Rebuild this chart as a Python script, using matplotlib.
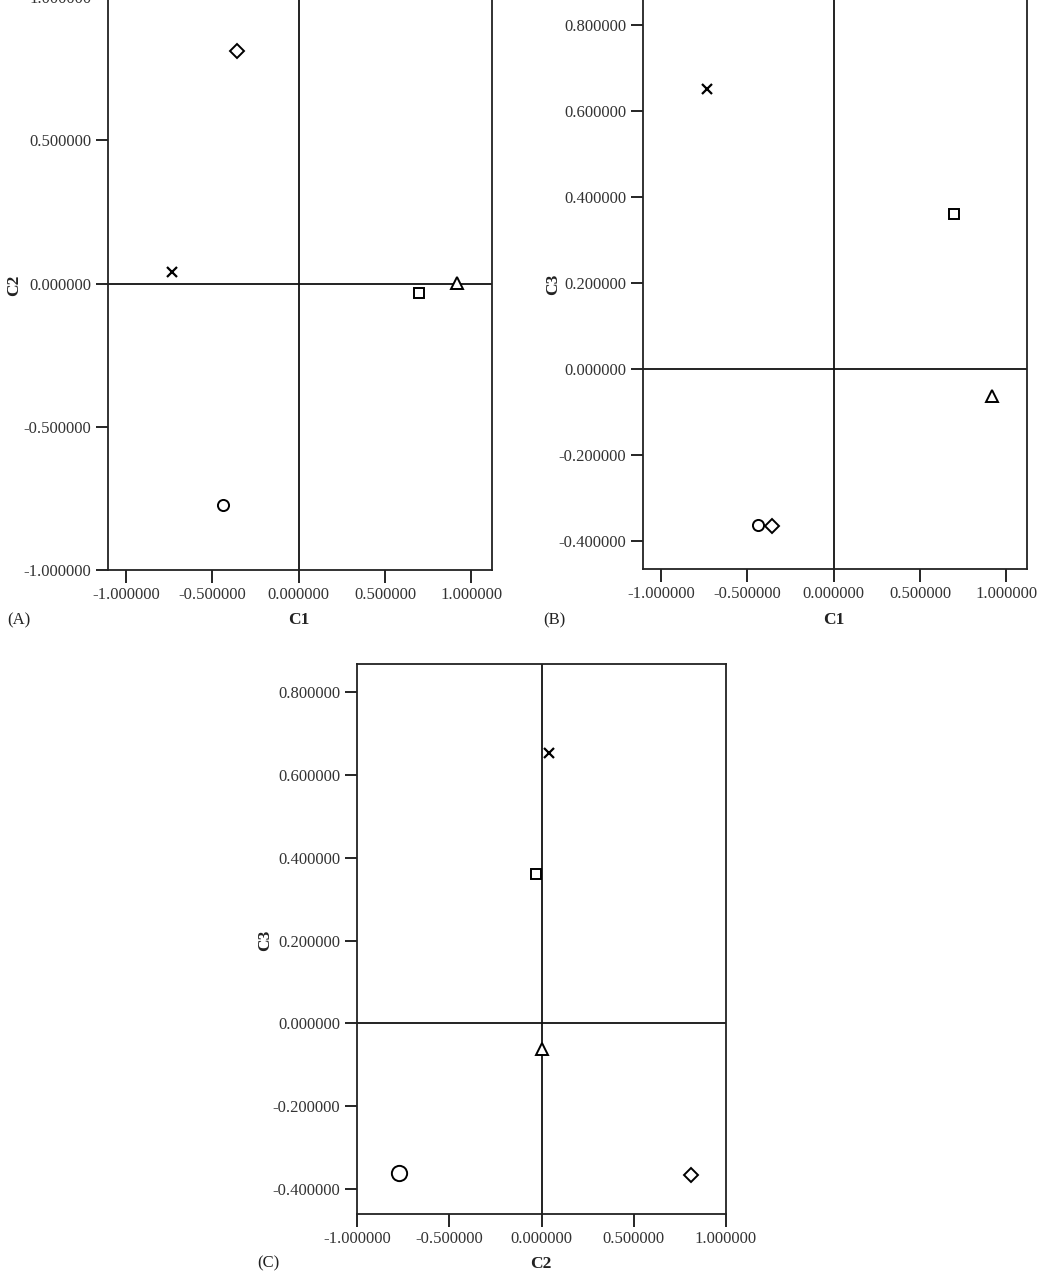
import matplotlib
matplotlib.use("Agg")
import matplotlib.pyplot as plt
from matplotlib.ticker import FuncFormatter

plt.rcParams['font.family'] = ['Liberation Serif', 'DejaVu Serif']

# Data: five objects, coordinates on dimensions C1, C2, C3
markers = ['o', 'D', 'x', 's', '^']
c1 = [-0.440, -0.355, -0.736, 0.695, 0.920]
c2 = [-0.772, 0.813, 0.042, -0.032, 0.002]
c3 = [-0.362, -0.366, 0.652, 0.361, -0.062]

xticks_ab = [-1.0, -0.5, 0.0, 0.5, 1.0]
yticks_a = [-1.0, -0.5, 0.0, 0.5, 1.0]
yticks_bc = [-0.4, -0.2, 0.0, 0.2, 0.4, 0.6, 0.8]

W, H = 1041, 1277
fig = plt.figure(figsize=(W / 100, H / 100), dpi=100)


def px_axes(left, top, right, bottom):
    return fig.add_axes([left / W, (H - bottom) / H, (right - left) / W, (bottom - top) / H])


fmt = FuncFormatter(lambda v, p: f"{v:.6f}")

sizes_ab = {'o': 8, 'D': 7, 'x': 7, 's': 7.5, '^': 8.5}
sizes_c = {'o': 11, 'D': 7, 'x': 7, 's': 7.5, '^': 8.5}


def style(ax, xlim, ylim, xticks, yticks, xlabel, ylabel, xlab_px, ylab_px):
    ax.set_xlim(*xlim)
    ax.set_ylim(*ylim)
    ax.set_xticks(xticks)
    ax.set_yticks(yticks)
    ax.xaxis.set_major_formatter(fmt)
    ax.yaxis.set_major_formatter(fmt)
    ax.tick_params(direction='out', length=9, width=1.2, labelsize=12, pad=3,
                   colors='black', labelcolor='#333333')
    for s in ax.spines.values():
        s.set_linewidth(1.3)
        s.set_color('#222222')
    ax.axhline(0, color='#111111', lw=1.3, zorder=1)
    ax.axvline(0, color='#111111', lw=1.3, zorder=1)
    ax.set_xlabel(xlabel, fontsize=12.5, fontweight='bold', color='#222222')
    ax.set_ylabel(ylabel, fontsize=12.5, fontweight='bold', color='#222222')
    ax.xaxis.set_label_coords(xlab_px[0] / W, 1 - xlab_px[1] / H, transform=fig.transFigure)
    ax.yaxis.set_label_coords(ylab_px[0] / W, 1 - ylab_px[1] / H, transform=fig.transFigure)
    ax.xaxis.label.set_va('center')
    ax.yaxis.label.set_va('center')


def scatter(ax, xs, ys, sizes):
    for m, x, y in zip(markers, xs, ys):
        if m == 'x':
            ax.plot(x, y, marker=m, ms=sizes[m], color='black', mew=1.6, ls='none', zorder=3)
        else:
            ax.plot(x, y, marker=m, ms=sizes[m], mfc='white', mec='black', mew=1.4, ls='none', zorder=3)


# Panel A: C1 vs C2
axA = px_axes(108, -17, 492, 570)
style(axA, (-1.105, 1.12), (-1.0, 1.05), xticks_ab, yticks_a, 'C1', 'C2', (299, 620), (14, 285))
scatter(axA, c1, c2, sizes_ab)

# Panel B: C1 vs C3
axB = px_axes(643, -5, 1027, 569)
style(axB, (-1.105, 1.12), (-0.465, 0.87), xticks_ab, yticks_bc, 'C1', 'C3', (834, 620), (553, 284))
scatter(axB, c1, c3, sizes_ab)

# Panel C: C2 vs C3
axC = px_axes(357, 664, 726, 1214)
style(axC, (-1.0, 1.0), (-0.46, 0.868), xticks_ab, yticks_bc, 'C2', 'C3', (541, 1264), (265, 940))
scatter(axC, c2, c3, sizes_c)

fig.text(7 / W, 1 - 620 / H, '(A)', fontsize=12, va='center', ha='left', color='#222222')
fig.text(543 / W, 1 - 620 / H, '(B)', fontsize=12, va='center', ha='left', color='#222222')
fig.text(257 / W, 1 - 1263 / H, '(C)', fontsize=12, va='center', ha='left', color='#222222')

fig.savefig('out.png', dpi=100, facecolor='white')
